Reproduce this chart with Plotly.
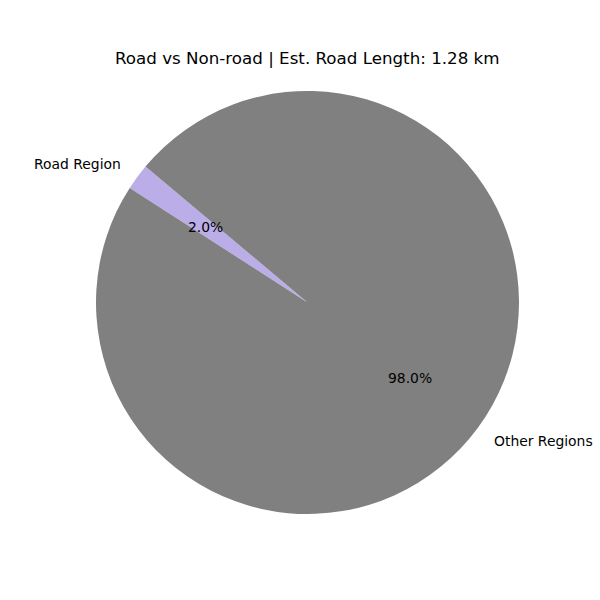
import math
import plotly.graph_objects as go

labels = ["Road Region", "Other Regions"]
values = [2.0, 98.0]
colors = ["#bbaee8", "#808080"]
title_text = "Road vs Non-road | Est. Road Length: 1.28 km"

W = H = 600
# pie geometry (pixels)
cx, cy, R = 307.5, 302.5, 211.5
start_angle = 140.0  # degrees, counterclockwise from +x

total = sum(values)
first_span = 360.0 * values[0] / total

fig = go.Figure(go.Pie(
    labels=labels, values=values, sort=False,
    direction="counterclockwise", rotation=-(start_angle - 90) - first_span,
    marker=dict(colors=colors, line=dict(width=0)),
    textinfo="none", hoverinfo="label+percent", showlegend=False,
    domain=dict(x=[(cx - R) / W, (cx + R) / W], y=[1 - (cy + R) / H, 1 - (cy - R) / H]),
))

ang = start_angle
annotations = []
font = dict(family="DejaVu Sans", size=13.9, color="black")
for lab, v in zip(labels, values):
    span = 360.0 * v / total
    mid = math.radians(ang + span / 2)
    ang += span
    c, s = math.cos(mid), math.sin(mid)
    lx, ly = cx + 1.1 * R * c, cy - 1.1 * R * s
    annotations.append(dict(x=lx / W, y=1 - ly / H, xref="paper", yref="paper",
                            text=lab, showarrow=False, font=font,
                            xshift=-3 if c > 0 else 3,
                            xanchor="left" if c > 0 else "right", yanchor="middle"))
    px, py = cx + 0.6 * R * c, cy - 0.6 * R * s
    annotations.append(dict(x=px / W, y=1 - py / H, xref="paper", yref="paper",
                            text=f"{100 * v / total:.1f}%", showarrow=False, font=font,
                            xanchor="center", yanchor="middle"))

annotations.append(dict(x=cx / W, y=1 - 58 / H, xref="paper", yref="paper",
                        text=title_text, showarrow=False,
                        font=dict(family="DejaVu Sans", size=16.7, color="black"),
                        xanchor="center", yanchor="middle"))

fig.update_layout(width=W, height=H, margin=dict(l=0, r=0, t=0, b=0),
                  paper_bgcolor="white", plot_bgcolor="white",
                  annotations=annotations)
fig.write_html("out.html")
